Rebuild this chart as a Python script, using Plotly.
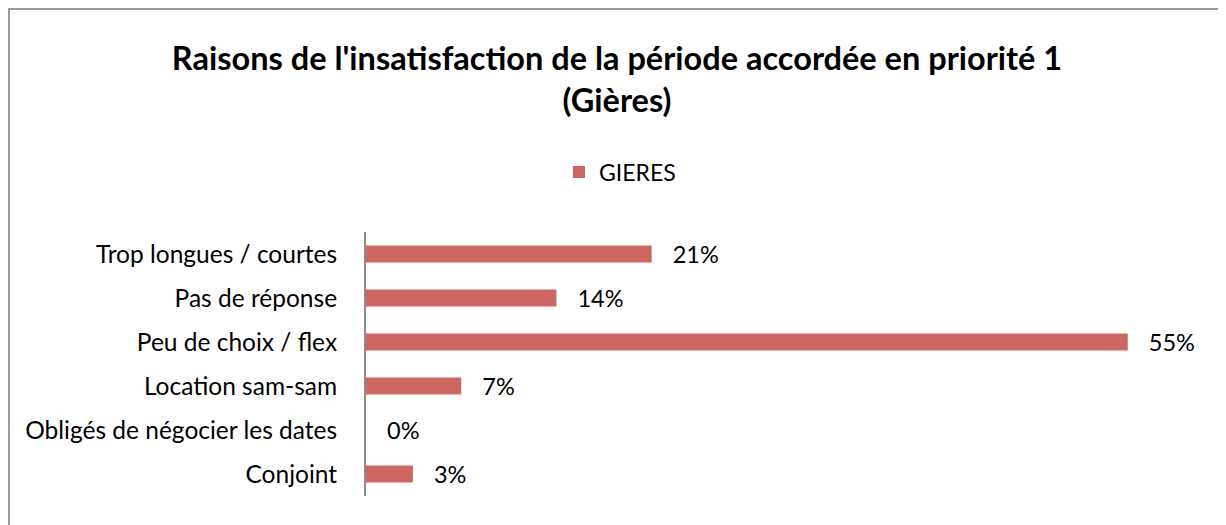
import plotly.graph_objects as go

categories = ["Trop longues / courtes", "Pas de réponse", "Peu de choix / flex",
              "Location sam-sam", "Obligés de négocier les dates", "Conjoint"]
values = [20.7, 13.8, 55.2, 6.9, 0.0, 3.4]
series_name = "GIERES"
title_text = "Raisons de l'insatisfaction de la période accordée en priorité 1<br>(Gières)"

FONT = "Lato, 'Open Sans', sans-serif"
OFF = 8  # page body margin
W, H = 1226 - OFF, 525 - OFF
L, T = 366 - OFF, 232 - OFF
R = W - (1194 - OFF)
B = H - (496 - OFF)

fig = go.Figure()
fig.add_trace(go.Bar(
    y=categories, x=values, orientation="h", name=series_name,
    marker=dict(color="#CD6660", line=dict(width=0)),
    width=0.39,
    texttemplate="   %{x:.0f}%", textposition="outside", constraintext="none",
    textfont=dict(family=FONT, size=23.5, color="#000000"),
    cliponaxis=False, hoverinfo="skip",
))

pw = W - L - R
ph = H - T - B
fig.add_shape(type="rect", xref="paper", yref="paper",
              x0=(1 - L) / pw, x1=(W + 10 - L) / pw,
              y0=-(B + 10) / ph, y1=(H - B - 1) / ph,
              line=dict(color="#999999", width=2), fillcolor="rgba(0,0,0,0)", layer="below")

fig.update_layout(
    width=W, height=H,
    margin=dict(l=L, r=R, t=T, b=B, pad=0),
    paper_bgcolor="white", plot_bgcolor="white",
    font=dict(family=FONT, size=23, color="#000000"),
    title=dict(text=title_text, xref="container", x=(617 - OFF) / W, xanchor="center",
               yref="container", y=1 - 62 / H, yanchor="top",
               font=dict(family=FONT, size=32.5, color="#000000", weight="bold")),
    showlegend=True,
    legend=dict(orientation="h", xref="container", yref="container",
                x=(620 - OFF) / W, xanchor="center", y=1 - (172 - OFF) / H, yanchor="middle",
                font=dict(family=FONT, size=23), itemwidth=30, bgcolor="rgba(0,0,0,0)"),
    xaxis=dict(range=[0, 60], visible=False, showgrid=False, zeroline=False),
    yaxis=dict(categoryorder="array", categoryarray=categories[::-1],
               showline=True, linecolor="#8c8c8c", linewidth=2,
               ticks="", showgrid=False, zeroline=False,
               ticklabelstandoff=22, tickfont=dict(family=FONT, size=24.5)),
    bargap=0.6,
)

fig.write_html("out.html")
